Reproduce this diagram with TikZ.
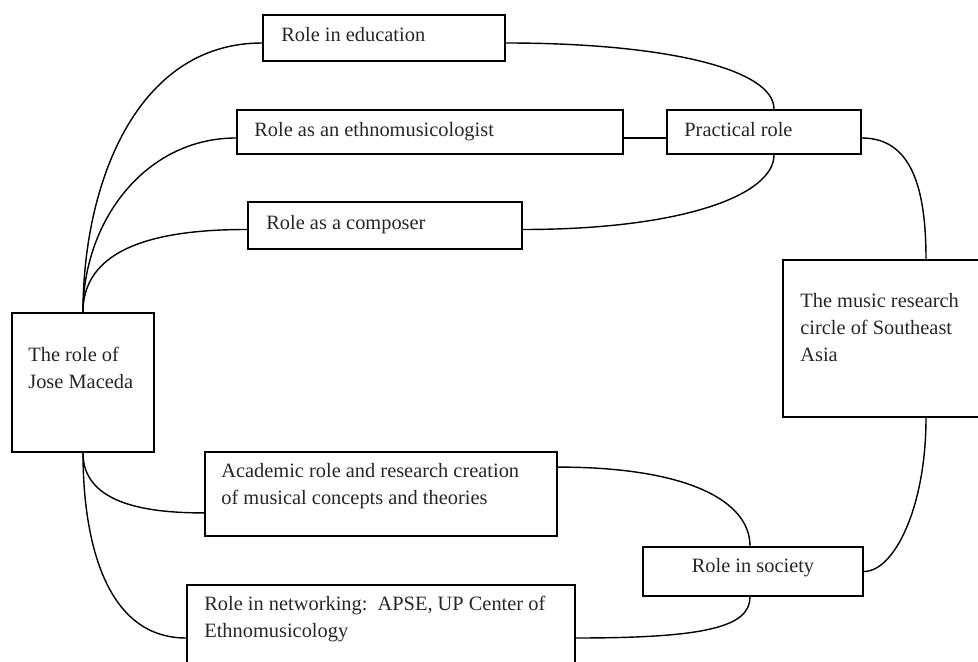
\documentclass[tikz,border=0pt]{standalone}
\usepackage{fontspec}
\setmainfont{Liberation Serif}
\usetikzlibrary{fit,calc}

\begin{document}
\begin{tikzpicture}[x=0.025cm, y=-0.025cm,
        box/.style={draw, line width=1.3pt, inner sep=0pt},
        lbl/.style={anchor=base west, inner sep=0pt, align=left, text=black!85,
            font=\fontsize{14.5}{18.9}\selectfont},
        link/.style={line width=1pt}]
    \useasboundingbox (0,0) rectangle (978,662);
    % boxes
    \node[box, fit={(12,313) (154,452)}] (maceda) {};
    \node[box, fit={(263,15) (505,61)}] (edu) {};
    \node[box, fit={(237,110) (623,154)}] (ethno) {};
    \node[box, fit={(248,202) (522,249)}] (comp) {};
    \node[box, fit={(667,110) (861,154)}] (practical) {};
    \node[box, fit={(783,260) (1069,417)}] (circle) {};
    \node[box, fit={(205,452) (557,536)}] (academic) {};
    \node[box, fit={(187,585) (575,691)}] (network) {};
    \node[box, fit={(643,547) (863,596)}] (society) {};
    % texts (base = last line)
    \node[lbl] (maceda-t) at ($(maceda.north west)+(17,76)$) {The role of\\Jose Maceda};
    \node[lbl] (edu-t) at ($(edu.north west)+(19,27)$) {Role in education};
    \node[lbl] (ethno-t) at ($(ethno.north west)+(18,27)$) {Role as an ethnomusicologist};
    \node[lbl] (comp-t) at ($(comp.north west)+(19,28)$) {Role as a composer};
    \node[lbl] (practical-t) at ($(practical.north west)+(18,27)$) {Practical role};
    \node[lbl] (circle-t) at ($(circle.north west)+(18,102)$) {The music research\\circle of Southeast\\Asia};
    \node[lbl] (academic-t) at ($(academic.north west)+(17,53)$) {Academic role and research creation\\of musical concepts and theories};
    \node[lbl] (network-t) at ($(network.north west)+(18,53)$) {Role in networking:\ \ APSE, UP Center of\\Ethnomusicology};
    \node[lbl, anchor=base] (society-t) at ($(society.north)+(0,26)$) {Role in society};
    % links
    \draw[link] (maceda.north) to[out=90, in=180] ($(edu.west)+(0,5)$);
    \draw[link] (maceda.north) to[out=90, in=180] ($(ethno.west)+(0,6)$);
    \draw[link] (maceda.north) to[out=90, in=180] ($(comp.west)+(0,4)$);
    \draw[link] ($(edu.east)+(0,5)$) .. controls +(160,0) and +(0,-40) .. ($(practical.north)+(10,0)$);
    \draw[link] ($(ethno.east)+(0,6)$) -- ($(practical.west)+(0,6)$);
    \draw[link] ($(comp.east)+(0,4)$) .. controls +(160,0) and +(0,40) .. ($(practical.south)+(10,0)$);
    \draw[link] ($(practical.east)+(0,6)$) .. controls +(50,0) and +(0,-70) .. (circle.north);
    \draw[link] (circle.south) .. controls +(0,90) and +(30,0) .. (society.east);
    \draw[link] ($(academic.north east)+(0,16)$) .. controls +(130,0) and +(0,-45) .. ($(society.north)+(-3,0)$);
    \draw[link] (network.east) .. controls +(130,0) and +(0,30) .. ($(society.south)+(-3,0)$);
    \draw[link] (maceda.south) to[out=-90, in=180] ($(academic.south west)+(0,-24)$);
    \draw[link] (maceda.south) to[out=-90, in=180] (network.west);
\end{tikzpicture}
\end{document}
